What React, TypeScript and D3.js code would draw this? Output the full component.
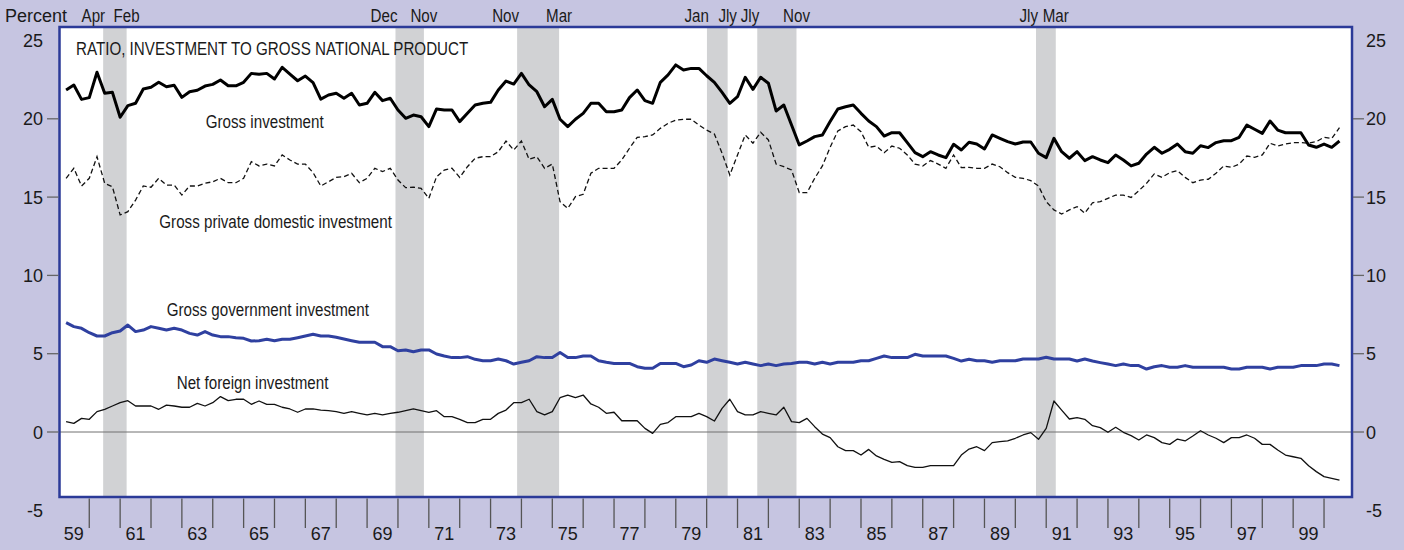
import React from "react";
import * as d3 from "d3";

// Quarterly series, 1959 Q1 .. 2000 Q2 (percent of GNP)
const firstYear = 1959;
const firstQuarter = 1;

const grossInvestment = [
  21.84, 22.16, 21.24, 21.35, 22.97, 21.63, 21.69, 20.1, 20.84, 20.99,
  21.9, 22.01, 22.33, 22.05, 22.14, 21.37, 21.73, 21.82, 22.09, 22.2,
  22.48, 22.11, 22.11, 22.33, 22.9, 22.84, 22.9, 22.54, 23.29, 22.86,
  22.43, 22.73, 22.31, 21.26, 21.52, 21.63, 21.31, 21.63, 20.88, 20.99,
  21.69, 21.16, 21.31, 20.56, 20.03, 20.24, 20.13, 19.5, 20.63, 20.56,
  20.56, 19.82, 20.35, 20.88, 20.99, 21.05, 21.84, 22.41, 22.22, 22.9,
  22.16, 21.73, 20.77, 21.24, 19.97, 19.5, 19.97, 20.35, 20.99, 20.99,
  20.45, 20.45, 20.56, 21.35, 21.84, 21.16, 20.99, 22.33, 22.8, 23.44,
  23.12, 23.22, 23.22, 22.75, 22.33, 21.69, 20.99, 21.41, 22.65, 21.88,
  22.65, 22.27, 20.5, 20.88, 19.6, 18.33, 18.58, 18.86, 18.97, 19.82,
  20.63, 20.77, 20.88, 20.35, 19.86, 19.5, 18.9, 19.11, 19.11, 18.48,
  17.84, 17.58, 17.9, 17.69, 17.52, 18.37, 18.01, 18.5, 18.39, 18.07,
  18.97, 18.75, 18.54, 18.39, 18.52, 18.52, 17.8, 17.52, 18.75, 17.9,
  17.48, 17.9, 17.33, 17.58, 17.37, 17.2, 17.69, 17.37, 16.99, 17.16,
  17.75, 18.18, 17.8, 18.05, 18.39, 17.9, 17.8, 18.28, 18.16, 18.48,
  18.6, 18.6, 18.82, 19.6, 19.33, 19.07, 19.86, 19.28, 19.11, 19.11,
  19.11, 18.33, 18.18, 18.39, 18.18, 18.58,
];

const grossPrivateDomestic = [
  16.2, 16.84, 15.71, 16.2, 17.58, 15.88, 15.66, 13.86, 14.07, 14.81,
  15.71, 15.63, 16.2, 15.77, 15.77, 15.13, 15.71, 15.71, 15.88, 15.98,
  16.2, 15.92, 15.92, 16.2, 17.26, 16.99, 17.11, 16.99, 17.69, 17.37,
  17.11, 17.11, 16.56, 15.71, 15.98, 16.26, 16.3, 16.52, 15.92, 16.2,
  16.84, 16.63, 16.84, 16.09, 15.6, 15.63, 15.56, 14.92, 16.3, 16.73,
  16.84, 16.26, 16.94, 17.48, 17.58, 17.58, 17.9, 18.58, 18.01, 18.58,
  17.41, 17.58, 16.84, 17.11, 14.71, 14.28, 15.03, 15.18, 16.52, 16.84,
  16.84, 16.84, 17.37, 18.12, 18.82, 18.86, 18.97, 19.39, 19.71, 19.92,
  19.97, 19.97, 19.6, 19.28, 19.03, 17.8, 16.41, 17.69, 18.97, 18.44,
  19.14, 18.65, 17.11, 16.94, 16.73, 15.28, 15.28, 16.2, 16.99, 18.18,
  19.22, 19.5, 19.6, 19.18, 18.18, 18.26, 17.84, 18.26, 18.12, 17.69,
  17.11, 16.99, 17.33, 17.11, 16.84, 17.69, 16.88, 16.9, 16.84, 16.84,
  17.11, 16.94, 16.56, 16.26, 16.2, 16.05, 15.71, 14.71, 14.18, 13.92,
  14.18, 14.39, 13.97, 14.64, 14.71, 14.92, 15.13, 15.13, 14.98, 15.41,
  15.88, 16.48, 16.26, 16.56, 16.69, 16.26, 15.92, 16.09, 16.14, 16.52,
  16.99, 16.9, 17.11, 17.62, 17.54, 17.69, 18.44, 18.26, 18.39, 18.48,
  18.48, 18.44, 18.54, 18.82, 18.75, 19.43,
];

const grossGovernment = [
  6.98, 6.73, 6.62, 6.34, 6.13, 6.13, 6.34, 6.45, 6.83, 6.41,
  6.51, 6.73, 6.62, 6.51, 6.62, 6.51, 6.3, 6.19, 6.41, 6.19,
  6.09, 6.09, 6.02, 5.98, 5.81, 5.83, 5.92, 5.83, 5.92, 5.92,
  6.02, 6.13, 6.24, 6.13, 6.13, 6.05, 5.94, 5.83, 5.73, 5.73,
  5.73, 5.45, 5.45, 5.19, 5.24, 5.13, 5.24, 5.24, 4.98, 4.85,
  4.75, 4.75, 4.81, 4.64, 4.55, 4.55, 4.66, 4.55, 4.34, 4.45,
  4.55, 4.81, 4.75, 4.75, 5.07, 4.75, 4.75, 4.85, 4.85, 4.55,
  4.45, 4.38, 4.38, 4.38, 4.17, 4.07, 4.07, 4.38, 4.38, 4.38,
  4.17, 4.28, 4.55, 4.45, 4.66, 4.55, 4.45, 4.34, 4.45, 4.34,
  4.24, 4.34, 4.24, 4.34, 4.38, 4.45, 4.45, 4.34, 4.45, 4.34,
  4.45, 4.45, 4.45, 4.55, 4.55, 4.7, 4.85, 4.75, 4.75, 4.75,
  4.96, 4.85, 4.85, 4.85, 4.85, 4.7, 4.53, 4.64, 4.55, 4.55,
  4.45, 4.55, 4.55, 4.55, 4.66, 4.66, 4.66, 4.77, 4.66, 4.66,
  4.66, 4.53, 4.66, 4.53, 4.43, 4.34, 4.24, 4.34, 4.24, 4.24,
  4.02, 4.17, 4.24, 4.13, 4.13, 4.24, 4.13, 4.13, 4.13, 4.13,
  4.13, 4.02, 4.02, 4.13, 4.13, 4.13, 4.02, 4.13, 4.13, 4.13,
  4.24, 4.24, 4.24, 4.34, 4.34, 4.24,
];

const netForeign = [
  0.66, 0.55, 0.87, 0.81, 1.3, 1.45, 1.66, 1.87, 2.0, 1.66,
  1.66, 1.66, 1.45, 1.72, 1.66, 1.58, 1.58, 1.83, 1.66, 1.87,
  2.26, 2.0, 2.09, 2.09, 1.77, 1.98, 1.77, 1.77, 1.58, 1.47,
  1.26, 1.47, 1.47, 1.4, 1.36, 1.3, 1.19, 1.3, 1.19, 1.09,
  1.19, 1.09, 1.19, 1.26, 1.36, 1.47, 1.36, 1.26, 1.36, 0.98,
  0.98, 0.81, 0.6, 0.6, 0.81, 0.81, 1.19, 1.4, 1.87, 1.87,
  2.09, 1.3, 1.09, 1.3, 2.19, 2.36, 2.19, 2.36, 1.79, 1.58,
  1.19, 1.26, 0.72, 0.72, 0.72, 0.23, -0.09, 0.49, 0.6, 0.98,
  0.98, 0.98, 1.19, 0.98, 0.7, 1.51, 2.09, 1.3, 1.09, 1.09,
  1.3, 1.19, 1.09, 1.58, 0.66, 0.6, 0.87, 0.34, -0.13, -0.36,
  -0.94, -1.19, -1.19, -1.47, -1.11, -1.53, -1.75, -1.94, -1.89, -2.15,
  -2.26, -2.26, -2.15, -2.15, -2.15, -2.15, -1.47, -1.09, -0.94, -1.19,
  -0.68, -0.62, -0.57, -0.4, -0.19, -0.04, -0.47, 0.23, 1.98, 1.4,
  0.83, 0.92, 0.81, 0.4, 0.28, -0.02, 0.3, -0.02, -0.23, -0.51,
  -0.19, -0.36, -0.68, -0.79, -0.45, -0.57, -0.26, 0.08, -0.19, -0.4,
  -0.68, -0.36, -0.36, -0.19, -0.4, -0.79, -0.79, -1.15, -1.47, -1.58,
  -1.68, -2.15, -2.53, -2.85, -2.96, -3.07,
];

// Recessions (fractional years) and their month labels
const recessionStarts = [1960.45, 1969.92, 1973.86, 1980.01, 1981.64, 1990.67];
const recessionEnds = [1961.21, 1970.84, 1975.22, 1980.68, 1982.91, 1991.31];
const recessionStartLabels = ["Apr", "Dec", "Nov", "Jan", "Jly", "Jly"];
const recessionEndLabels = ["Feb", "Nov", "Mar", "Jly", "Nov", "Mar"];

const yTickValues = [25, 20, 15, 10, 5, 0, -5];
const yTickMarks = [20, 15, 10, 5, 0];
const yearTickValues = d3.range(1960, 2001);
const yearLabels = ["59", "61", "63", "65", "67", "69", "71", "73", "75", "77", "79",
  "81", "83", "85", "87", "89", "91", "93", "95", "97", "99"];

const W = 1404;
const H = 550;
const BOX = { left: 59.5, right: 1352, top: 27, bottom: 497 };
const BG = "#c6c5e1";
const BLUE_BORDER = "#2b3a98";
const BLUE_LINE = "#2f40a0";
const SHADE = "#d1d2d4";
const SANS = "'Liberation Sans', Arial, Helvetica, sans-serif";

function NarrowText({ x, y, anchor = "start", size = 18.5, children }: any) {
  return (
    <g transform={`translate(${x},${y}) scale(0.82,1)`}>
      <text x={0} y={0} textAnchor={anchor} fontSize={size} fontFamily={SANS} fill="#1a1a1a">
        {children}
      </text>
    </g>
  );
}

export default function App() {
  const x = d3.scaleLinear().domain([1959, 2001]).range([58.4, 1354.9]);
  const y = d3.scaleLinear().domain([-5, 25]).range([510.3, 40.5]);

  const dateOf = (i: number) => firstYear + (firstQuarter - 1) * 0.25 + 0.25 * (i + 1);
  const line = d3
    .line<number>()
    .x((_, i) => x(dateOf(i)))
    .y((d) => y(d))
    .curve(d3.curveLinear);

  return (
    <div style={{ position: "absolute", left: 0, top: 0, width: W, height: H }}>
      <svg width={W} height={H} style={{ display: "block" }}>
        <rect x={0} y={0} width={W} height={H} fill={BG} />
        <rect x={BOX.left} y={BOX.top} width={BOX.right - BOX.left} height={BOX.bottom - BOX.top} fill="#ffffff" />

        {/* recession shading */}
        {recessionStarts.map((s, k) => (
          <rect
            key={"r" + k}
            x={x(s)}
            y={BOX.top}
            width={x(recessionEnds[k]) - x(s)}
            height={BOX.bottom - BOX.top}
            fill={SHADE}
          />
        ))}

        {/* zero line */}
        <line x1={BOX.left} x2={BOX.right} y1={y(0)} y2={y(0)} stroke="#707070" strokeWidth={1} />

        {/* series */}
        <path d={line(netForeign) || ""} fill="none" stroke="#111" strokeWidth={1.3} strokeLinejoin="round" />
        <path d={line(grossGovernment) || ""} fill="none" stroke={BLUE_LINE} strokeWidth={3} strokeLinejoin="round" />
        <path d={line(grossPrivateDomestic) || ""} fill="none" stroke="#111" strokeWidth={1.3} strokeDasharray="5,3" />
        <path d={line(grossInvestment) || ""} fill="none" stroke="#000" strokeWidth={3} strokeLinejoin="round" />

        {/* border */}
        <rect
          x={BOX.left}
          y={BOX.top}
          width={BOX.right - BOX.left}
          height={BOX.bottom - BOX.top}
          fill="none"
          stroke={BLUE_BORDER}
          strokeWidth={2.5}
        />

        {/* y ticks */}
        {yTickMarks.map((v) => (
          <g key={"yt" + v}>
            <line x1={47} x2={BOX.left - 1} y1={y(v)} y2={y(v)} stroke="#666" strokeWidth={1.3} />
            <line x1={BOX.right + 1} x2={1364} y1={y(v)} y2={y(v)} stroke="#666" strokeWidth={1.3} />
          </g>
        ))}
        {yTickValues.map((v) => (
          <g key={"yl" + v} fontFamily={SANS} fontSize={18} fill="#1a1a1a">
            <text x={43} y={y(v) + 6.5} textAnchor="end">{v}</text>
            <text x={1366} y={y(v) + 6.5} textAnchor="start">{v}</text>
          </g>
        ))}
        <text x={5} y={22} fontFamily={SANS} fontSize={18} fill="#1a1a1a">Percent</text>

        {/* x ticks */}
        {yearTickValues.map((yr) => (
          <line key={"xt" + yr} x1={x(yr)} x2={x(yr)} y1={BOX.bottom + 1.5} y2={528} stroke="#555" strokeWidth={1.3} />
        ))}
        {yearLabels.map((lab) => (
          <text
            key={"xl" + lab}
            x={x(1900 + +lab + 0.5)}
            y={540}
            textAnchor="middle"
            fontFamily={SANS}
            fontSize={18}
            fill="#1a1a1a"
          >
            {lab}
          </text>
        ))}

        {/* recession month labels */}
        {recessionStarts.map((s, k) => (
          <NarrowText key={"rs" + k} x={x(s) + 2} y={21.5} anchor="end">
            {recessionStartLabels[k]}
          </NarrowText>
        ))}
        {recessionEnds.map((e, k) => (
          <NarrowText key={"re" + k} x={x(e)} y={21.5} anchor="middle">
            {recessionEndLabels[k]}
          </NarrowText>
        ))}

        {/* in-plot labels */}
        <NarrowText x={76} y={54.5}>RATIO, INVESTMENT TO GROSS NATIONAL PRODUCT</NarrowText>
        <NarrowText x={205.7} y={128}>Gross investment</NarrowText>
        <NarrowText x={159.3} y={228}>Gross private domestic investment</NarrowText>
        <NarrowText x={166.7} y={316}>Gross government investment</NarrowText>
        <NarrowText x={176.7} y={389}>Net foreign investment</NarrowText>
      </svg>
    </div>
  );
}
